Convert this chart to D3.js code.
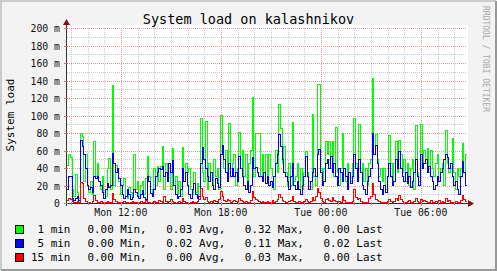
<!DOCTYPE html>
<html>
<head>
<meta charset="utf-8">
<script src="https://cdn.jsdelivr.net/npm/d3@7"></script>
<style>
body { margin: 0; background: #f3f3f3; }
svg { display: block; }
text { font-family: "DejaVu Sans Mono", monospace; }
</style>
</head>
<body>
<svg id="chart" width="497" height="271"></svg>
<script>
// load values in milli-units, one sample every 6 minutes
const load1 = [43,56,52,15,8,33,12,5,80,76, 25,56,20,12,25,10,70,30,45,25,
  15,30,10,8,40,51,15,134,20,43, 38,25,10,20,28,8,5,18,12,6,
  55,15,25,8,20,25,10,28,53,30, 15,8,40,20,42,25,42,65,15,45,
  30,45,15,62,20,30,10,25,8,64, 25,45,35,40,15,10,35,12,22,8,
  97,35,25,93,15,45,35,20,50,30, 40,15,100,62,40,60,25,91,30,45,
  55,20,40,81,40,60,30,55,25,45, 60,121,30,80,80,80,30,55,35,55,
  25,55,40,30,15,60,35,113,85,45, 65,35,20,45,20,92,25,30,45,15,
  40,15,35,59,35,25,15,101,30,20, 136,136,40,25,40,70,55,70,40,70,
  30,86,35,20,40,80,40,25,45,35, 25,45,97,45,30,90,35,45,25,40,
  20,45,50,142,55,78,50,30,40,25, 40,15,30,77,45,25,45,70,35,72,
  55,35,50,25,45,20,40,50,15,89, 35,25,90,40,60,45,62,35,60,40,
  30,45,55,25,40,45,20,83,45,35, 45,74,35,15,40,30,40,68,35,56];
const load5 = [15,30,30,5,3,5,8,3,71,65, 55,40,20,15,18,12,30,28,30,25,
  20,12,5,15,22,18,20,57,45,35, 40,28,20,10,5,8,15,10,4,6,
  15,12,8,5,10,14,6,4,30,25, 11,8,15,30,35,40,38,42,30,35,
  25,45,35,49,20,10,5,8,15,40, 25,35,20,10,5,15,22,10,5,8,
  45,64,50,40,30,25,35,20,15,28, 22,18,55,66,50,35,25,45,30,40,
  30,35,25,53,40,30,20,15,25,12, 20,52,40,41,35,30,30,25,35,22,
  30,20,25,18,30,45,55,78,65,50, 35,30,25,15,30,45,20,15,25,15,
  10,20,30,53,30,15,25,35,40,30, 55,61,35,20,25,45,50,40,53,35,
  45,30,20,40,35,25,40,30,15,35, 22,30,55,40,25,50,35,20,15,10,
  25,30,40,80,55,66,45,25,15,10, 20,12,30,45,30,20,25,50,40,59,
  40,30,25,35,22,30,18,25,35,50, 30,20,55,40,45,50,35,42,30,25,
  15,20,30,25,35,40,50,55,52,40, 45,30,20,25,15,10,30,47,35,20];
const load15 = [3,5,4,2,1,1,2,1,24,22, 5,2,1,1,0,2,9,3,1,1,
  2,1,0,1,2,1,1,11,4,2, 1,1,0,1,2,1,1,0,1,2,
  1,1,0,1,2,1,1,3,1,1, 0,1,2,1,1,3,2,1,7,2,
  1,2,4,2,1,0,1,2,1,5, 2,1,1,0,1,2,1,1,2,4,
  17,8,4,6,2,1,2,1,3,2, 1,4,13,8,3,2,4,3,1,2,
  3,2,1,5,3,2,1,2,1,1, 3,13,6,4,3,2,1,2,1,1,
  2,1,1,3,1,2,4,10,6,3, 2,1,1,2,3,8,2,1,1,2,
  1,1,2,4,2,1,2,6,3,8, 17,12,5,2,1,4,5,3,2,6,
  3,2,1,2,1,7,3,1,0,1, 1,2,15,6,4,5,2,1,1,1,
  1,5,8,22,10,4,3,2,1,0, 1,1,2,4,2,1,2,5,3,9,
  4,2,1,1,2,3,1,1,2,5, 2,1,4,2,3,2,1,1,3,1,
  1,2,1,3,1,2,1,5,2,3, 1,0,1,2,1,1,3,9,4,2];

const seriesNames = ["  1 min", "  5 min", " 15 min"];
const seriesColors = ["#00ff00", "#0000ff", "#ff0000"];
const statsText = ["0.00 Min,   0.03 Avg,   0.32 Max,   0.00 Last",
  "0.00 Min,   0.02 Avg,   0.11 Max,   0.02 Last",
  "0.00 Min,   0.00 Avg,   0.03 Max,   0.00 Last"];
const yTicks = [0,20,40,60,80,100,120,140,160,180,200];

const W = 497, H = 271;
const pLeft = 67, pRight = 467, pTop = 28, pBottom = 203;
const start = new Date(2024, 0, 1, 8, 46);
const end = d3.timeHour.offset(start, 24);
const stepMin = 6;

const svg = d3.select("#chart");

// frame
svg.append("rect").attr("width", W).attr("height", H).attr("fill", "#f3f3f3");
svg.append("path").attr("d", `M1,${H-1}V1H${W-1}`).attr("stroke", "#cbcbcb").attr("stroke-width", 2).attr("fill", "none");
svg.append("path").attr("d", `M1,${H-1}H${W-1}V1`).attr("stroke", "#999").attr("stroke-width", 2).attr("fill", "none");

// canvas
svg.append("rect").attr("x", pLeft).attr("y", pTop - 3).attr("width", pRight - pLeft + 1).attr("height", pBottom - pTop + 3)
  .attr("fill", "#fff");

const x = d3.scaleTime().domain([start, end]).range([pLeft, pRight]);
const y = d3.scaleLinear().domain([0, 200]).range([pBottom, pTop]);

const grid = svg.append("g").attr("shape-rendering", "crispEdges");
// minor grid
d3.range(10, 200, 20).forEach(v => {
  grid.append("line").attr("x1", pLeft).attr("x2", pRight).attr("y1", Math.round(y(v)) + 0.5).attr("y2", Math.round(y(v)) + 0.5)
    .attr("stroke", "#c8c8c8").attr("stroke-dasharray", "1,1");
});
x.ticks(d3.timeHour.every(1)).forEach(t => {
  if (t.getHours() % 6 === 0) return;
  grid.append("line").attr("x1", Math.round(x(t)) + 0.5).attr("x2", Math.round(x(t)) + 0.5).attr("y1", pTop).attr("y2", pBottom)
    .attr("stroke", "#c8c8c8").attr("stroke-dasharray", "1,1");
});
// major grid
yTicks.slice(1).forEach(v => {
  grid.append("line").attr("x1", pLeft).attr("x2", pRight).attr("y1", Math.round(y(v)) + 0.5).attr("y2", Math.round(y(v)) + 0.5)
    .attr("stroke", "#e09a9a").attr("stroke-dasharray", "1,1");
});
x.ticks(d3.timeHour.every(6)).forEach(t => {
  grid.append("line").attr("x1", Math.round(x(t)) + 0.5).attr("x2", Math.round(x(t)) + 0.5).attr("y1", pTop).attr("y2", pBottom)
    .attr("stroke", "#e09a9a").attr("stroke-dasharray", "1,1");
});

// series
const line = d3.line().x(d => x(d.t)).y(d => y(d.v)).curve(d3.curveStepAfter);
[load1, load5, load15].forEach((vals, k) => {
  const pts = vals.map((v, i) => ({ t: d3.timeMinute.offset(start, i * stepMin), v }));
  pts.push({ t: end, v: vals[vals.length - 1] });
  svg.append("path").datum(pts).attr("d", line)
    .attr("fill", "none").attr("stroke", seriesColors[k]).attr("stroke-width", 1)
    .attr("shape-rendering", "crispEdges");
});

// axes
const ax = svg.append("g").attr("shape-rendering", "crispEdges");
ax.append("line").attr("x1", pLeft - 3).attr("x2", pRight + 3).attr("y1", pBottom + 0.5).attr("y2", pBottom + 0.5).attr("stroke", "#333");
ax.append("line").attr("x1", pLeft - 0.5).attr("x2", pLeft - 0.5).attr("y1", pBottom + 3).attr("y2", pTop - 5).attr("stroke", "#333");
x.ticks(d3.timeHour.every(1)).forEach(t => {
  const big = t.getHours() % 6 === 0;
  ax.append("line").attr("x1", Math.round(x(t)) + 0.5).attr("x2", Math.round(x(t)) + 0.5)
    .attr("y1", pBottom - 1).attr("y2", pBottom + (big ? 3 : 2)).attr("stroke", "#e07070");
});
yTicks.forEach(v => {
  ax.append("line").attr("x1", pLeft - 3).attr("x2", pLeft + 1).attr("y1", Math.round(y(v)) + 0.5).attr("y2", Math.round(y(v)) + 0.5)
    .attr("stroke", "#e07070");
});
svg.append("path").attr("d", `M${pLeft - 4},${pTop - 3}L${pLeft - 0.5},${pTop - 9}L${pLeft + 3},${pTop - 3}Z`).attr("fill", "#7f1010");
svg.append("path").attr("d", `M${pRight + 1},${pBottom - 3}L${pRight + 7},${pBottom + 0.5}L${pRight + 1},${pBottom + 4}Z`).attr("fill", "#7f1010");

// tick labels
svg.append("g").selectAll("text").data(yTicks).join("text")
  .attr("x", 60).attr("y", d => y(d) + 4).attr("text-anchor", "end")
  .attr("font-size", 9.8).attr("fill", "#111")
  .text(d => d === 0 ? "0" : d + " m");
svg.append("g").selectAll("text").data(x.ticks(d3.timeHour.every(6))).join("text")
  .attr("x", d => x(d)).attr("y", 216).attr("text-anchor", "middle")
  .attr("font-size", 9.8).attr("fill", "#111")
  .text(d3.timeFormat("%a %H:%M"));

// titles
svg.append("text").attr("x", 248.5).attr("y", 24).attr("text-anchor", "middle")
  .attr("font-size", 13.5).attr("fill", "#000").text("System load on kalashnikov");
svg.append("text").attr("transform", "translate(14,115) rotate(-90)").attr("text-anchor", "middle")
  .attr("font-size", 11).attr("fill", "#000").text("System load");
svg.append("text").attr("transform", "translate(483,59) rotate(90)").attr("text-anchor", "middle")
  .attr("font-size", 8).attr("fill", "#a8a8a8").text("RRDTOOL / TOBI OETIKER");

// legend
seriesNames.forEach((name, k) => {
  const yy = 233 + k * 14;
  svg.append("rect").attr("x", 15.5).attr("y", yy - 7.5).attr("width", 8).attr("height", 8)
    .attr("fill", seriesColors[k]).attr("stroke", "#000").attr("shape-rendering", "crispEdges");
  svg.append("text").attr("x", 24.5).attr("y", yy).attr("font-size", 10.9).attr("fill", "#000")
    .attr("xml:space", "preserve").style("white-space", "pre").text(name);
  svg.append("text").attr("x", 87.5).attr("y", yy).attr("font-size", 10.9).attr("fill", "#000")
    .attr("xml:space", "preserve").style("white-space", "pre").text(statsText[k]);
});
</script>
</body>
</html>
